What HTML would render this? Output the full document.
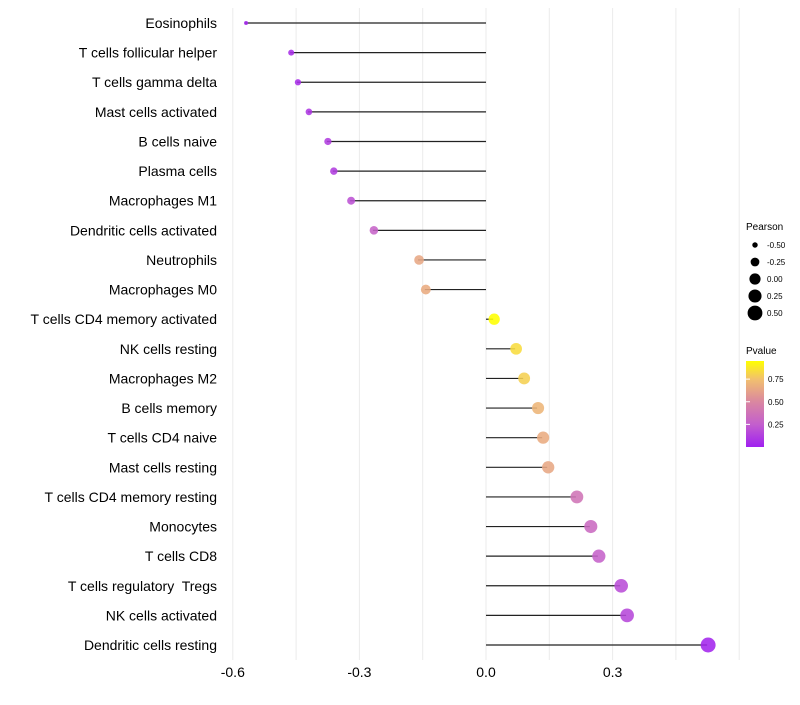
<!DOCTYPE html>
<html><head><meta charset="utf-8"><style>
body{margin:0;background:#fff;font-family:"Liberation Sans",sans-serif}
text{white-space:pre}
</style></head><body>
<svg id="chart" width="800" height="700" xmlns="http://www.w3.org/2000/svg"></svg>
<script>
const categories=["Eosinophils","T cells follicular helper","T cells gamma delta","Mast cells activated","B cells naive","Plasma cells","Macrophages M1","Dendritic cells activated","Neutrophils","Macrophages M0","T cells CD4 memory activated","NK cells resting","Macrophages M2","B cells memory","T cells CD4 naive","Mast cells resting","T cells CD4 memory resting","Monocytes","T cells CD8","T cells regulatory  Tregs","NK cells activated","Dendritic cells resting"];
const pearson=[-0.571,-0.464,-0.448,-0.422,-0.377,-0.363,-0.322,-0.268,-0.161,-0.145,0.017,0.069,0.088,0.121,0.133,0.145,0.213,0.246,0.265,0.318,0.332,0.524];
const pvalues=[0.03,0.06,0.06,0.09,0.12,0.12,0.2,0.28,0.64,0.66,0.95,0.84,0.8,0.7,0.66,0.64,0.38,0.32,0.27,0.18,0.16,0.02];
const xTicks=[-0.6,-0.3,0.0,0.3];
const xTickLabels=["-0.6","-0.3","0.0","0.3"];
const sizeLegend=[-0.5,-0.25,0,0.25,0.5];
const sizeLegendLabels=["-0.50","-0.25","0.00","0.25","0.50"];
const pLegend=[0.25,0.5,0.75];

const svg=document.getElementById('chart');
const NS="http://www.w3.org/2000/svg";
const x=v=>486+v*422;
const y=i=>23+i*29.62;
const rad=v=>Math.sqrt(4+Math.max(0,v+0.571)*47.5);
const stops=[[0,[160,32,240]],[0.25,[195,95,205]],[0.5,[218,135,160]],[0.75,[242,192,110]],[0.95,[255,255,0]]];
function col(p){p=Math.max(0,Math.min(0.95,p));for(let k=0;k<stops.length-1;k++){const [a,ca]=stops[k],[b,cb]=stops[k+1];if(p<=b){const t=(p-a)/(b-a);return 'rgb('+ca.map((c,j)=>Math.round(c+(cb[j]-c)*t)).join(',')+')';}}return 'rgb(255,255,0)';}
function el(t,a,txt){const e=document.createElementNS(NS,t);for(const k in a)e.setAttribute(k,a[k]);if(txt!==undefined)e.textContent=txt;svg.appendChild(e);return e;}
for(let v=-0.6;v<=0.61;v+=0.15){const g=el('line',{x1:x(v),x2:x(v),y1:8,y2:660,stroke:'#ebebeb','stroke-width':1});

}
xTicks.forEach((v,i)=>{const t=el('text',{x:x(v),y:677,'text-anchor':'middle','font-size':14,fill:'#000'},xTickLabels[i]);

});
categories.forEach((c,i)=>{
const t=el('text',{x:217,y:y(i)+5,'text-anchor':'end','font-size':14,fill:'#000'},c);


const l=el('line',{x1:x(0),x2:x(pearson[i]),y1:y(i),y2:y(i),stroke:'#222','stroke-width':1.2});


const p=el('circle',{cx:x(pearson[i])+1,cy:y(i),r:rad(pearson[i]),fill:col(pvalues[i]),'fill-opacity':0.88});


});
let t=el('text',{x:746,y:230,'font-size':10},'Pearson');


sizeLegend.forEach((v,i)=>{const yy=245+i*17;
const c=el('circle',{cx:755,cy:yy,r:rad(v),fill:'#000'});


const tt=el('text',{x:767,y:yy+3,'font-size':8},sizeLegendLabels[i]);

});
t=el('text',{x:746,y:354,'font-size':10},'Pvalue');


const defs=el('defs',{});const lg=document.createElementNS(NS,'linearGradient');lg.setAttribute('id','pg');lg.setAttribute('x1',0);lg.setAttribute('x2',0);lg.setAttribute('y1',1);lg.setAttribute('y2',0);defs.appendChild(lg);
stops.forEach(s=>{const st=document.createElementNS(NS,'stop');st.setAttribute('offset',s[0]/0.95);st.setAttribute('stop-color','rgb('+s[1].join(',')+')');lg.appendChild(st);});
const bar=el('rect',{x:746,y:361,width:18,height:86,fill:'url(#pg)'});


const py=p=>447-p*90.5;
pLegend.forEach(p=>{
const tk=el('line',{x1:746,x2:750,y1:py(p),y2:py(p),stroke:'#fff'});


const tt=el('text',{x:768,y:py(p)+3,'font-size':8},p.toFixed(2));

});
</script>
</body></html>
